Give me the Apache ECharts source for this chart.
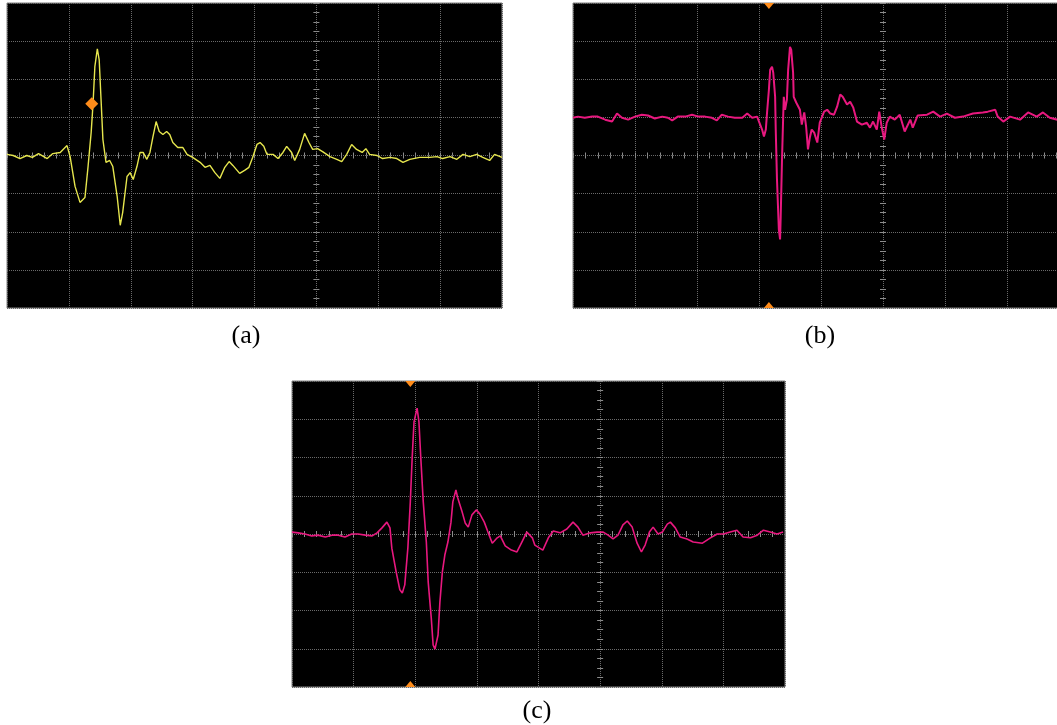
<!DOCTYPE html>
<html>
<head>
<meta charset="utf-8">
<title>Waveforms</title>
<script src="https://cdn.jsdelivr.net/npm/echarts@6/dist/echarts.min.js"></script>
<style>
  html, body { margin: 0; padding: 0; background: #fff; }
  #chart { width: 1057px; height: 725px; }
</style>
</head>
<body>
<div id="chart"></div>
<script>
// screen coordinates in divisions, 0 = centre crosshair
const xRange = [-5, 3]
const yRange = [-4, 4]

// (a) yellow trace
const traceA = [[-5.00,0.03],[-4.90,0],[-4.79,-0.08],[-4.68,0],[-4.59,-0.05],[-4.49,0.05],[-4.35,-0.08],[-4.26,0.05],[-4.14,0.08],[-4.03,0.26],[-3.98,-0.03],[-3.90,-0.81],[-3.82,-1.23],[-3.74,-1.10],[-3.69,-0.29],[-3.64,0.60],[-3.61,1.34],[-3.58,2.33],[-3.54,2.80],[-3.51,2.51],[-3.48,1.47],[-3.45,0.42],[-3.40,-0.18],[-3.34,-0.13],[-3.29,-0.29],[-3.22,-1.07],[-3.17,-1.83],[-3.13,-1.49],[-3.06,-0.55],[-3.01,-0.45],[-2.96,-0.63],[-2.90,-0.29],[-2.85,0.08],[-2.80,0.08],[-2.74,-0.10],[-2.69,0.08],[-2.64,0.50],[-2.59,0.89],[-2.54,0.63],[-2.48,0.55],[-2.42,0.63],[-2.37,0.55],[-2.32,0.34],[-2.24,0.21],[-2.16,0.21],[-2.09,0.03],[-2.00,-0.05],[-1.88,-0.18],[-1.80,-0.31],[-1.72,-0.26],[-1.64,-0.45],[-1.56,-0.60],[-1.48,-0.31],[-1.41,-0.16],[-1.35,-0.26],[-1.24,-0.47],[-1.16,-0.39],[-1.09,-0.31],[-1.03,-0.05],[-0.96,0.29],[-0.91,0.34],[-0.85,0.24],[-0.80,0.03],[-0.70,0.03],[-0.62,-0.08],[-0.54,0.08],[-0.48,0.24],[-0.40,0.08],[-0.35,-0.13],[-0.27,0.16],[-0.19,0.58],[-0.12,0.34],[-0.06,0.16],[0.02,0.18],[0.10,0.10],[0.22,-0.03],[0.33,-0.10],[0.41,-0.16],[0.49,0.03],[0.57,0.29],[0.65,0.16],[0.74,0.08],[0.80,0.18],[0.86,0.03],[0.98,0],[1.07,-0.08],[1.19,-0.05],[1.30,-0.08],[1.40,-0.18],[1.51,-0.10],[1.67,-0.05],[1.83,-0.05],[1.95,-0.03],[2.04,-0.08],[2.16,-0.03],[2.27,-0.10],[2.37,0.03],[2.48,-0.03],[2.59,0.03],[2.69,-0.05],[2.80,-0.13],[2.88,0.03],[3.00,-0.05]]

// (b) magenta trace, offset one division up
const traceB = [[-5.00,0.99],[-4.92,1.02],[-4.81,0.99],[-4.69,1.02],[-4.60,1.02],[-4.48,0.94],[-4.37,0.89],[-4.29,1.10],[-4.21,0.99],[-4.11,0.94],[-4.00,1.02],[-3.89,1.07],[-3.79,1.05],[-3.68,0.97],[-3.56,1.02],[-3.47,0.99],[-3.40,0.92],[-3.31,1.02],[-3.19,1.02],[-3.08,1.07],[-2.98,1.02],[-2.87,1.02],[-2.76,0.99],[-2.68,0.92],[-2.60,1.07],[-2.50,1.02],[-2.39,0.99],[-2.27,0.99],[-2.19,1.10],[-2.11,0.99],[-2.03,1.02],[-2.00,0.89],[-1.95,0.68],[-1.92,0.50],[-1.89,0.68],[-1.87,1.13],[-1.84,1.73],[-1.82,2.25],[-1.79,2.33],[-1.77,2.17],[-1.74,1.54],[-1.73,0.68],[-1.71,-0.63],[-1.68,-1.94],[-1.66,-2.20],[-1.65,-1.60],[-1.63,-0.18],[-1.61,1.02],[-1.60,1.54],[-1.58,1.20],[-1.55,1.47],[-1.53,2.25],[-1.50,2.85],[-1.48,2.77],[-1.45,2.17],[-1.44,1.54],[-1.40,1.39],[-1.37,1.41],[-1.34,1.20],[-1.31,0.81],[-1.27,1.13],[-1.24,0.76],[-1.21,0.16],[-1.18,0.47],[-1.15,0.68],[-1.11,0.60],[-1.06,0.34],[-1.02,0.86],[-0.95,1.15],[-0.90,1.20],[-0.85,1.10],[-0.79,1.07],[-0.74,1.28],[-0.69,1.60],[-0.65,1.54],[-0.58,1.34],[-0.53,1.41],[-0.48,1.26],[-0.42,0.89],[-0.34,0.81],[-0.26,0.86],[-0.21,0.73],[-0.16,0.89],[-0.10,0.68],[-0.06,1.15],[-0.02,0.73],[0.02,0.42],[0.06,0.86],[0.11,1.02],[0.19,0.94],[0.27,1.07],[0.35,0.63],[0.44,0.94],[0.48,0.73],[0.56,1.05],[0.71,1.07],[0.81,1.15],[0.92,1.02],[1.03,1.10],[1.16,0.99],[1.29,1.02],[1.45,1.10],[1.61,1.13],[1.69,1.15],[1.81,1.20],[1.85,1.02],[1.94,0.89],[2.05,1.02],[2.21,0.94],[2.34,1.13],[2.48,1.02],[2.58,1.13],[2.69,0.99],[2.81,0.94],[2.95,1.02]]

// (c) magenta trace
const traceC = [[-5.00,0.05],[-4.90,0.03],[-4.79,0],[-4.68,-0.05],[-4.58,-0.03],[-4.46,-0.08],[-4.35,-0.03],[-4.25,-0.03],[-4.14,-0.08],[-4.03,0],[-3.93,0],[-3.81,-0.03],[-3.70,-0.05],[-3.62,0.03],[-3.54,0.16],[-3.46,0.31],[-3.41,0.16],[-3.38,-0.37],[-3.31,-0.99],[-3.25,-1.46],[-3.21,-1.54],[-3.17,-1.33],[-3.12,-0.37],[-3.08,0.84],[-3.05,1.99],[-3.02,2.93],[-2.97,3.29],[-2.94,2.93],[-2.91,1.99],[-2.87,0.84],[-2.82,-0.21],[-2.79,-1.25],[-2.74,-2.20],[-2.71,-2.90],[-2.68,-3.01],[-2.63,-2.64],[-2.60,-1.78],[-2.56,-0.99],[-2.52,-0.55],[-2.47,-0.21],[-2.42,0.31],[-2.39,0.84],[-2.34,1.15],[-2.31,0.94],[-2.24,0.58],[-2.19,0.29],[-2.14,0.18],[-2.08,0.50],[-2.01,0.63],[-1.95,0.52],[-1.88,0.31],[-1.82,0.05],[-1.75,-0.24],[-1.67,-0.10],[-1.62,-0.05],[-1.54,-0.31],[-1.44,-0.42],[-1.35,-0.47],[-1.27,-0.21],[-1.19,0.05],[-1.10,-0.10],[-1.06,-0.29],[-0.93,-0.42],[-0.84,-0.10],[-0.76,0.08],[-0.65,0.03],[-0.54,0.13],[-0.44,0.31],[-0.36,0.18],[-0.28,-0.03],[-0.16,0.03],[-0.05,0.05],[0.05,0.05],[0.13,-0.03],[0.21,-0.13],[0.29,-0.03],[0.37,0.24],[0.44,0.34],[0.52,0.18],[0.60,-0.24],[0.67,-0.47],[0.73,-0.29],[0.80,0.05],[0.86,0.18],[0.94,0],[1.01,0.05],[1.09,0.26],[1.14,0.31],[1.22,0.16],[1.30,-0.08],[1.41,-0.13],[1.51,-0.21],[1.66,-0.24],[1.79,-0.10],[1.90,0],[2.00,0],[2.11,0.05],[2.22,0.10],[2.32,-0.08],[2.44,-0.10],[2.55,-0.03],[2.65,0.10],[2.76,0.05],[2.87,0],[2.97,0.05]]

// trigger markers
const triggerA = [-3.63, 1.36]
const triggerB = -1.84
const triggerC = -3.08

const panelNames = ['(a)', '(b)', '(c)']

// panel (b) runs past the right edge of the page, as in the original crop
const panels = [
  { box: { left: 7, top: 3, width: 495, height: 305 }, color: '#e6e64e', width: 1.4, data: traceA, label: [246, 336] },
  { box: { left: 573, top: 3, width: 496, height: 305 }, color: '#e8187f', width: 2, data: traceB, label: [820, 336] },
  { box: { left: 292, top: 381, width: 493, height: 306 }, color: '#e8187f', width: 1.6, data: traceC, label: [537, 711] }
]

const gridLine = { color: '#6a6a6a', type: 'dotted', width: 1 }
const tickLine = { color: '#8c8c8c', width: 1 }
const orange = '#ff8c1a'

const grids = []
const xAxes = []
const yAxes = []
const series = []

// two axes per direction so the crosshair ticks stick out on both sides
panels.forEach((p, i) => {
  grids.push(Object.assign({
    show: true, backgroundColor: '#000', borderColor: '#808080', borderWidth: 1,
    outerBoundsMode: 'none', containLabel: false
  }, p.box))
  ;[true, false].forEach(inside => {
    xAxes.push({
      gridIndex: i, type: 'value', position: 'bottom', min: xRange[0], max: xRange[1], interval: 1,
      axisLine: { show: false, onZero: true, onZeroAxisIndex: i * 2 },
      axisTick: { show: true, inside, length: 3, lineStyle: tickLine },
      minorTick: { show: true, splitNumber: 5, length: 3, lineStyle: tickLine },
      axisLabel: { show: false },
      splitLine: { show: inside, lineStyle: gridLine }
    })
    yAxes.push({
      gridIndex: i, type: 'value', position: 'left', min: yRange[0], max: yRange[1], interval: 1,
      axisLine: { show: false, onZero: true, onZeroAxisIndex: i * 2 },
      axisTick: { show: true, inside, length: 3, lineStyle: tickLine },
      minorTick: { show: true, splitNumber: 4, length: 3, lineStyle: tickLine },
      axisLabel: { show: false },
      splitLine: { show: inside, lineStyle: gridLine }
    })
  })
})

function triangles(x) {
  return [
    { coord: [x, yRange[1]], symbol: 'triangle', symbolRotate: 180, symbolSize: [10, 6], symbolOffset: [0, 3] },
    { coord: [x, yRange[0]], symbol: 'triangle', symbolSize: [10, 6], symbolOffset: [0, -3] }
  ]
}

const markers = [
  [{ coord: triggerA, symbol: 'diamond', symbolSize: 13 }],
  triangles(triggerB),
  triangles(triggerC)
]

panels.forEach((p, i) => {
  series.push({
    type: 'line',
    xAxisIndex: i * 2,
    yAxisIndex: i * 2,
    data: p.data,
    symbol: 'none',
    lineStyle: { color: p.color, width: p.width },
    silent: true,
    markPoint: {
      silent: true,
      label: { show: false },
      itemStyle: { color: orange },
      data: markers[i]
    }
  })
})

const chart = echarts.init(document.getElementById('chart'))
chart.setOption({
  animation: false,
  backgroundColor: '#fff',
  grid: grids,
  xAxis: xAxes,
  yAxis: yAxes,
  series: series,
  graphic: panels.map((p, i) => ({
    type: 'text',
    x: p.label[0],
    y: p.label[1],
    style: {
      text: panelNames[i],
      fill: '#000',
      font: '26px "Liberation Serif", serif',
      textAlign: 'center',
      textVerticalAlign: 'middle'
    }
  }))
})
</script>
</body>
</html>
